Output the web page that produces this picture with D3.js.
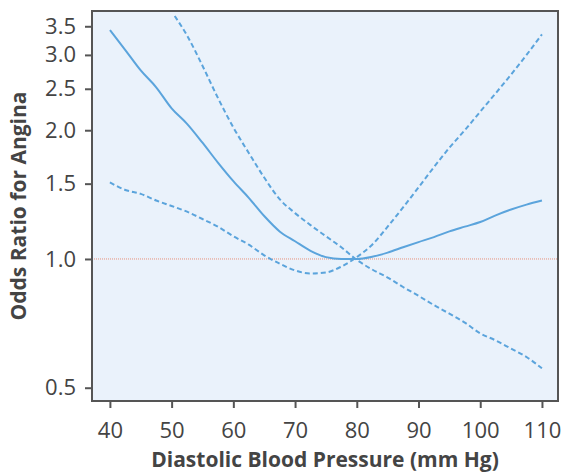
<!DOCTYPE html>
<html>
<head>
<meta charset="utf-8">
<script src="https://cdn.jsdelivr.net/npm/d3@7/dist/d3.min.js"></script>
<style>
  html, body { margin: 0; padding: 0; background: #ffffff; }
  svg { display: block; }
</style>
</head>
<body>
<svg id="chart" width="561" height="475"></svg>
<script>
// ---- Data ----
const xTicks = [40, 50, 60, 70, 80, 90, 100, 110];
const yTicks = [0.5, 1.0, 1.5, 2.0, 2.5, 3.0, 3.5];
const yTickLabels = ["0.5", "1.0", "1.5", "2.0", "2.5", "3.0", "3.5"];

const orX = [40, 42.5, 45, 47.5, 50, 52.5, 55, 57.5, 60, 62.5, 65, 67.5, 70, 72.5, 75, 77.5, 80, 82.5, 85, 87.5, 90, 92.5, 95, 97.5, 100, 102.5, 105, 107.5, 110];
const orY = [3.43, 3.08, 2.76, 2.52, 2.25, 2.07, 1.87, 1.68, 1.52, 1.39, 1.26, 1.16, 1.10, 1.045, 1.01, 1.0, 1.0, 1.012, 1.035, 1.065, 1.095, 1.125, 1.16, 1.19, 1.22, 1.265, 1.305, 1.34, 1.37];

const upperX = [50.5, 52.5, 55, 57.5, 60, 62.5, 65, 67.5, 70, 72.5, 75, 77.5, 80, 82.5, 85, 87.5, 90, 92.5, 95, 97.5, 100, 102.5, 105, 107.5, 110];
const upperY = [3.70, 3.33, 2.83, 2.38, 2.03, 1.77, 1.55, 1.38, 1.28, 1.20, 1.13, 1.065, 0.995, 0.945, 0.905, 0.86, 0.82, 0.78, 0.745, 0.71, 0.67, 0.645, 0.617, 0.59, 0.555];

const lowerX = [40, 42.5, 45, 47.5, 50, 52.5, 55, 57.5, 60, 62.5, 65, 67.5, 70, 72.5, 75, 77.5, 80, 82.5, 85, 87.5, 90, 92.5, 95, 97.5, 100, 102.5, 105, 107.5, 110];
const lowerY = [1.51, 1.45, 1.42, 1.37, 1.33, 1.29, 1.24, 1.19, 1.13, 1.08, 1.02, 0.975, 0.94, 0.925, 0.93, 0.96, 1.01, 1.08, 1.19, 1.32, 1.47, 1.64, 1.82, 2.0, 2.21, 2.44, 2.70, 3.0, 3.35];

const refValue = 1.0;
const xTitle = "Diastolic Blood Pressure (mm Hg)";
const yTitle = "Odds Ratio for Angina";

// ---- Layout ----
const plot = { left: 92, top: 11, right: 558, bottom: 401 };
const lineColor = "#5ba4dc";
const textColor = "#444444";
const font = "'Open Sans', 'DejaVu Sans', sans-serif";

const svg = d3.select("#chart");

const x = d3.scaleLinear().domain([37.1, 112.6]).range([plot.left, plot.right]);
const y = d3.scaleLog().domain([0.4655, 3.80]).range([plot.bottom, plot.top]);

// plot background
svg.append("rect")
  .attr("x", plot.left).attr("y", plot.top)
  .attr("width", plot.right - plot.left).attr("height", plot.bottom - plot.top)
  .attr("fill", "#eaf2fb");

// reference line
svg.append("line")
  .attr("x1", plot.left).attr("x2", plot.right)
  .attr("y1", y(refValue)).attr("y2", y(refValue))
  .attr("stroke", "#e8907a").attr("stroke-width", 1)
  .attr("stroke-dasharray", "1,1");

const lineGen = d3.line()
  .x(d => x(d[0])).y(d => y(d[1]))
  .curve(d3.curveMonotoneX);

function series(xs, ys) { return xs.map((v, i) => [v, ys[i]]); }

const g = svg.append("g");
g.append("path").datum(series(orX, orY))
  .attr("d", lineGen).attr("fill", "none")
  .attr("stroke", lineColor).attr("stroke-width", 2);
g.append("path").datum(series(upperX, upperY))
  .attr("d", lineGen).attr("fill", "none")
  .attr("stroke", lineColor).attr("stroke-width", 2)
  .attr("stroke-dasharray", "5,3");
g.append("path").datum(series(lowerX, lowerY))
  .attr("d", lineGen).attr("fill", "none")
  .attr("stroke", lineColor).attr("stroke-width", 2)
  .attr("stroke-dasharray", "5,3");

// frame
svg.append("rect")
  .attr("x", plot.left).attr("y", plot.top)
  .attr("width", plot.right - plot.left).attr("height", plot.bottom - plot.top)
  .attr("fill", "none").attr("stroke", "#555555").attr("stroke-width", 2);

// axes
const xAxis = d3.axisBottom(x).tickValues(xTicks).tickSize(6).tickSizeOuter(0);
const gx = svg.append("g").attr("transform", `translate(0,${plot.bottom + 1})`).call(xAxis);
gx.select(".domain").remove();
gx.selectAll(".tick line").attr("stroke", "#555555").attr("stroke-width", 2);
gx.selectAll(".tick text").attr("fill", textColor)
  .attr("y", 36).attr("dy", 0)
  .style("font-family", font).style("font-size", "22px");

const yAxis = d3.axisLeft(y).tickValues(yTicks).tickFormat((d, i) => yTickLabels[i])
  .tickSize(6).tickSizeOuter(0).tickPadding(9);
const gy = svg.append("g").attr("transform", `translate(${plot.left - 1},0)`).call(yAxis);
gy.select(".domain").remove();
gy.selectAll(".tick line").attr("stroke", "#555555").attr("stroke-width", 2);
gy.selectAll(".tick text").attr("fill", textColor)
  .style("font-family", font).style("font-size", "22px");

// titles
svg.append("text")
  .attr("x", (plot.left + plot.right) / 2).attr("y", 467)
  .attr("text-anchor", "middle").attr("fill", textColor)
  .style("font-family", font).style("font-size", "21px").style("font-weight", "bold")
  .text(xTitle);

svg.append("text")
  .attr("transform", `translate(26,${(plot.top + plot.bottom) / 2}) rotate(-90)`)
  .attr("text-anchor", "middle").attr("fill", textColor)
  .style("font-family", font).style("font-size", "21px").style("font-weight", "bold")
  .text(yTitle);
</script>
</body>
</html>
